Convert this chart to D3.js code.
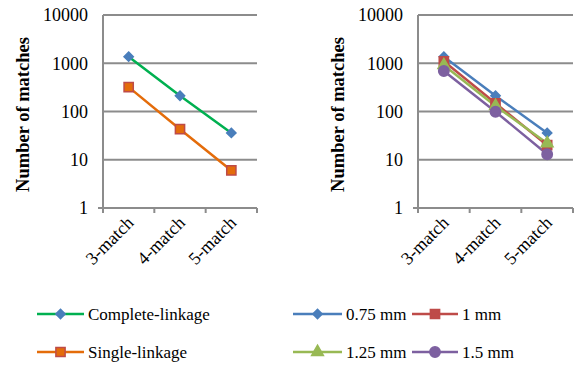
<!DOCTYPE html>
<html>
<head>
<meta charset="utf-8">
<script src="https://cdn.jsdelivr.net/npm/d3@7"></script>
<style>
  body { margin: 0; background: #fff; }
</style>
</head>
<body>
<svg id="chart" width="577" height="365" font-family="Liberation Serif"></svg>
<script>
// data
var categories = ["3-match", "4-match", "5-match"];
var yTicks = [1, 10, 100, 1000, 10000];

var completeLinkage = [1370, 212, 36];
var singleLinkage = [320, 43, 6];

var mm075 = [1370, 212, 36];
var mm100 = [1100, 148, 20];
var mm125 = [910, 130, 22];
var mm150 = [690, 99, 13];

var leftSeries = [
  { name: "Complete-linkage", values: completeLinkage, line: "#00b050", fill: "#4a7ebb", stroke: "#4a7ebb", shape: "diamond" },
  { name: "Single-linkage", values: singleLinkage, line: "#e46c0a", fill: "#e46c0a", stroke: "#be4b48", shape: "square" }
];
var rightSeries = [
  { name: "0.75 mm", values: mm075, line: "#4a7ebb", fill: "#4a7ebb", stroke: "#4a7ebb", shape: "diamond" },
  { name: "1 mm", values: mm100, line: "#be4b48", fill: "#be4b48", stroke: "#be4b48", shape: "square" },
  { name: "1.25 mm", values: mm125, line: "#98b954", fill: "#98b954", stroke: "#98b954", shape: "triangle" },
  { name: "1.5 mm", values: mm150, line: "#7d60a0", fill: "#7d60a0", stroke: "#7d60a0", shape: "circle" }
];

var svg = d3.select("#chart");
var gridColor = "#8c8c8c";
var serif = "Liberation Serif";

function symbolFor(shape) {
  if (shape == "diamond") return d3.symbol().type(d3.symbolDiamond2).size(55);
  if (shape == "square") return d3.symbol().type(d3.symbolSquare).size(85);
  if (shape == "triangle") return d3.symbol().type(d3.symbolTriangle).size(60);
  return d3.symbol().type(d3.symbolCircle).size(85);
}

function drawPanel(left, right, series) {
  var top = 15, bottom = 208;
  var x = d3.scaleBand().domain(categories).range([left, right]);
  var y = d3.scaleLog().domain([1, 10000]).range([bottom, top]);
  var g = svg.append("g");

  // gridlines
  g.selectAll("line.grid").data(yTicks.slice(1)).enter().append("line")
    .attr("x1", left).attr("x2", right)
    .attr("y1", function (d) { return y(d); })
    .attr("y2", function (d) { return y(d); })
    .style("stroke", gridColor).style("stroke-width", 2);

  // y axis
  var yAxis = d3.axisLeft(y).tickValues(yTicks).tickFormat(d3.format("d")).tickSize(0).tickPadding(15);
  var ya = g.append("g").attr("transform", "translate(" + left + ",0)").call(yAxis);
  ya.attr("font-family", serif).attr("font-size", 18);
  ya.select(".domain").remove();
  ya.selectAll("text").attr("fill", "#000");
  g.append("line").attr("x1", left).attr("x2", left).attr("y1", top).attr("y2", bottom + 5)
    .style("stroke", gridColor).style("stroke-width", 2);

  // x axis
  g.append("line").attr("x1", left - 5).attr("x2", right).attr("y1", bottom).attr("y2", bottom)
    .style("stroke", gridColor).style("stroke-width", 2);
  var edges = [left].concat(categories.map(function (c) { return x(c) + x.bandwidth(); }));
  g.selectAll("line.xt").data(edges).enter().append("line")
    .attr("x1", function (d) { return d; }).attr("x2", function (d) { return d; })
    .attr("y1", bottom).attr("y2", bottom + 5)
    .style("stroke", gridColor).style("stroke-width", 2);
  g.selectAll("text.xl").data(categories).enter().append("text")
    .attr("text-anchor", "end")
    .attr("transform", function (d) {
      return "translate(" + (x(d) + x.bandwidth() / 2 + 6) + "," + (bottom + 16) + ") rotate(-45)";
    })
    .attr("font-family", serif).attr("font-size", 18)
    .text(function (d) { return d; });

  // y title
  g.append("text")
    .attr("transform", "translate(" + (left - 74) + "," + ((top + bottom) / 2 + 3) + ") rotate(-90)")
    .attr("text-anchor", "middle")
    .attr("font-family", serif).attr("font-size", 18.5).attr("font-weight", "bold")
    .text("Number of matches");

  // series
  var line = d3.line()
    .x(function (d, i) { return x(categories[i]) + x.bandwidth() / 2; })
    .y(function (d) { return y(d); });
  series.forEach(function (s) {
    g.append("path").datum(s.values).attr("d", line)
      .style("fill", "none").style("stroke", s.line).style("stroke-width", 2.5);
  });
  series.forEach(function (s) {
    g.selectAll(null).data(s.values).enter().append("path")
      .attr("d", symbolFor(s.shape))
      .attr("transform", function (d, i) {
        return "translate(" + (x(categories[i]) + x.bandwidth() / 2) + "," + y(d) + ")";
      })
      .style("fill", s.fill).style("stroke", s.stroke).style("stroke-width", 1.5);
  });
}

function drawLegendItem(s, x0, yRow, lineLen) {
  var g = svg.append("g");
  g.append("line").attr("x1", x0).attr("x2", x0 + lineLen).attr("y1", yRow).attr("y2", yRow)
    .style("stroke", s.line).style("stroke-width", 2.5);
  g.append("path").attr("d", symbolFor(s.shape))
    .attr("transform", "translate(" + (x0 + lineLen / 2) + "," + yRow + ")")
    .style("fill", s.fill).style("stroke", s.stroke).style("stroke-width", 1.5);
  g.append("text").attr("x", x0 + lineLen + 4).attr("y", yRow + 6)
    .attr("font-family", serif).attr("font-size", 17).text(s.name);
}

drawPanel(103, 257, leftSeries);
drawPanel(418, 573, rightSeries);

drawLegendItem(leftSeries[0], 37, 314, 47);
drawLegendItem(leftSeries[1], 37, 352, 47);
drawLegendItem(rightSeries[0], 293, 314, 49);
drawLegendItem(rightSeries[1], 412, 314, 46);
drawLegendItem(rightSeries[2], 293, 352, 49);
drawLegendItem(rightSeries[3], 412, 352, 46);
</script>
</body>
</html>
